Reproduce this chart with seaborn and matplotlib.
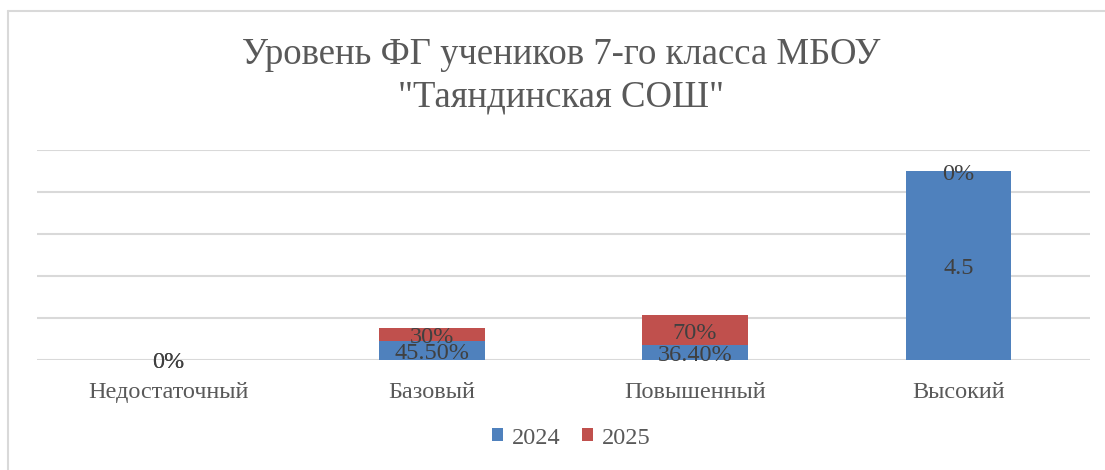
import matplotlib
matplotlib.use("Agg")
import matplotlib.pyplot as plt
import matplotlib.transforms as mtransforms
import seaborn as sns
import pandas as pd
from matplotlib.patches import Patch
from matplotlib.lines import Line2D

categories = ["Недостаточный", "Базовый", "Повышенный", "Высокий"]
values_2024 = [0.0, 0.455, 0.364, 4.5]
values_2025 = [0.0, 0.30, 0.70, 0.0]
labels_2024 = ["0%", "45.50%", "36.40%", "4.5"]
labels_2025 = ["0%", "30%", "70%", "0%"]
series_names = ["2024", "2025"]
title = 'Уровень ФГ учеников 7-го класса МБОУ\n"Таяндинская СОШ"'

c24 = "#4F81BD"
c25 = "#C0504D"
grid_c = "#D9D9D9"
txt_c = "#595959"
lab_c = "#404040"

sns.set_theme(style="white")
plt.rcParams["font.family"] = ["Liberation Serif", "DejaVu Serif"]

df = pd.DataFrame({"cat": categories, "v24": values_2024, "v25": values_2025})
df["total"] = df["v24"] + df["v25"]

fig = plt.figure(figsize=(11.05, 4.70), dpi=100)
ax = fig.add_axes([37/1105, 1-360/470, (1090-37)/1105, (360-150)/470])

sns.barplot(data=df, x="cat", y="total", color=c25, width=0.4, ax=ax,
            saturation=1, edgecolor="none", linewidth=0, zorder=3)
sns.barplot(data=df, x="cat", y="v24", color=c24, width=0.4, ax=ax,
            saturation=1, edgecolor="none", linewidth=0, zorder=3)

ax.set_ylim(0, 5)
ax.set_xlim(-0.5, 3.5)
ax.set_yticks([0, 1, 2, 3, 4, 5])
ax.yaxis.grid(True, color=grid_c, linewidth=1.5, zorder=0)
ax.set_axisbelow(True)
ax.tick_params(axis="y", left=False, labelleft=False)
ax.tick_params(axis="x", bottom=False, labelsize=17.5, labelcolor=txt_c, pad=10)
ax.set_xlabel("")
ax.set_ylabel("")
for s in ["top", "right", "left", "bottom"]:
    ax.spines[s].set_visible(False)

tr = mtransforms.offset_copy(ax.transData, fig=fig, x=0, y=-3, units="dots")
for i in range(len(categories)):
    v24 = values_2024[i]
    v25 = values_2025[i]
    ax.text(i, v24 / 2, labels_2024[i], ha="center", va="center",
            fontsize=17.5, color=lab_c, zorder=5, transform=tr)
    ax.text(i, v24 + v25 / 2, labels_2025[i], ha="center", va="center",
            fontsize=17.5, color=lab_c, zorder=5, transform=tr)

fig.text(0.508, 1-76/470, title, ha="center", va="center",
         fontsize=26.5, color=txt_c, linespacing=1.3)

handles = [Patch(facecolor=c24, edgecolor="none"), Patch(facecolor=c25, edgecolor="none")]
fig.legend(handles, series_names, loc="center", bbox_to_anchor=(0.517, 1-438/470),
           ncol=2, frameon=False, fontsize=17.5, labelcolor=txt_c,
           handlelength=0.45, handleheight=0.45, handletextpad=0.35, columnspacing=0.9)

fig.add_artist(Line2D([8/1105, 1], [1-11/470, 1-11/470], color=grid_c, lw=1.5))
fig.add_artist(Line2D([8/1105, 8/1105], [0, 1-11/470], color=grid_c, lw=1.5))

fig.savefig("out.png", dpi=100)
